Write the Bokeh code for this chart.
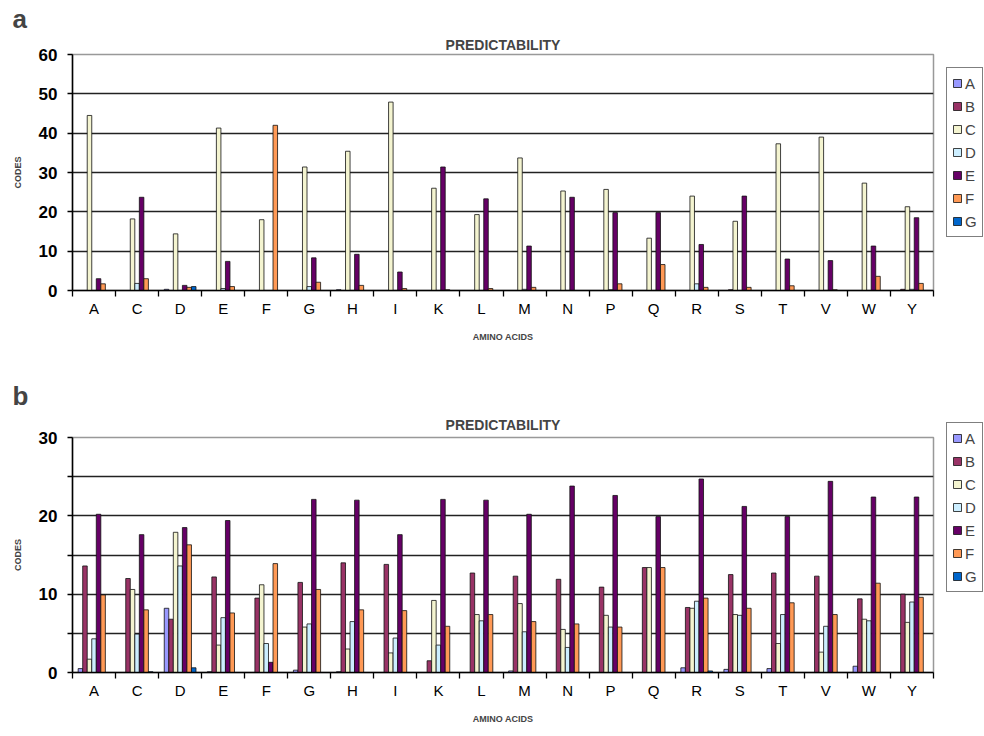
from bokeh.plotting import figure
from bokeh.models import FixedTicker, Range1d, Legend, LegendItem, Title, ColumnDataSource
from bokeh.layouts import column
from bokeh.embed import file_html
from bokeh.resources import INLINE

categories = ["A", "C", "D", "E", "F", "G", "H", "I", "K", "L",
              "M", "N", "P", "Q", "R", "S", "T", "V", "W", "Y"]
series_names = ["A", "B", "C", "D", "E", "F", "G"]

# Panel a
a_A = [0, 0, 0.3, 0, 0, 0, 0.2, 0, 0, 0, 0, 0, 0, 0, 0, 0, 0, 0, 0, 0]
a_B = [0, 0, 0, 0, 0, 0, 0, 0, 0, 0, 0, 0, 0, 0, 0, 0.2, 0, 0, 0, 0.3]
a_C = [44.5, 18.2, 14.4, 41.3, 18.0, 31.4, 35.4, 47.9, 26.0, 19.3,
       33.7, 25.3, 25.7, 13.3, 24.0, 17.6, 37.3, 39.0, 27.3, 21.3]
a_D = [0, 1.8, 0, 0.5, 0, 1.0, 0, 0, 0, 0, 0.3, 0, 0.2, 0, 1.7, 0, 0, 0, 0, 0.3]
a_E = [3.0, 23.7, 1.3, 7.4, 0, 8.3, 9.2, 4.7, 31.4, 23.3,
       11.3, 23.7, 19.8, 19.8, 11.7, 24.0, 8.0, 7.6, 11.3, 18.5]
a_F = [1.7, 3.0, 0.8, 1.0, 42.0, 2.1, 1.3, 0.5, 0.2, 0.5,
       0.8, 0, 1.7, 6.6, 0.8, 0.8, 1.2, 0.2, 3.6, 1.8]
a_G = [0, 0, 1.0, 0, 0, 0, 0, 0, 0, 0, 0, 0, 0, 0, 0, 0, 0, 0, 0, 0]

# Panel b
b_A = [0.5, 0, 8.2, 0.1, 0, 0.3, 0.1, 0, 0, 0, 0.2, 0, 0, 0, 0.6, 0.4, 0.5, 0, 0.8, 0]
b_B = [13.6, 12.0, 6.8, 12.2, 9.5, 11.5, 14.0, 13.8, 1.5, 12.7,
       12.3, 11.9, 10.9, 13.4, 8.3, 12.5, 12.7, 12.3, 9.4, 10.0]
b_C = [1.7, 10.6, 17.9, 3.5, 11.2, 5.8, 3.0, 2.5, 9.2, 7.4,
       8.8, 5.5, 7.3, 13.4, 8.2, 7.4, 3.7, 2.6, 6.8, 6.4]
b_D = [4.3, 4.9, 13.6, 7.0, 3.7, 6.2, 6.5, 4.4, 3.5, 6.6,
       5.2, 3.2, 5.8, 0, 9.1, 7.3, 7.4, 5.9, 6.6, 9.0]
b_E = [20.2, 17.6, 18.5, 19.4, 1.3, 22.1, 22.0, 17.6, 22.1, 22.0,
       20.2, 23.8, 22.6, 19.9, 24.7, 21.2, 19.9, 24.4, 22.4, 22.4]
b_F = [9.9, 8.0, 16.3, 7.6, 13.9, 10.6, 8.0, 7.9, 5.9, 7.4,
       6.5, 6.2, 5.8, 13.4, 9.5, 8.2, 8.9, 7.4, 11.4, 9.6]
b_G = [0, 0.1, 0.6, 0, 0, 0, 0, 0, 0, 0, 0, 0, 0, 0, 0.2, 0, 0, 0, 0, 0]

colors = ["#9999FF", "#993366", "#F4F4D0", "#CCEEFF", "#660066", "#FF9955", "#0066CC"]
FONT = "Liberation Sans"


def make_panel(values, ymax, major, minor, grid, letter, top, bottom, fh,
               legend_loc, title_standoff):
    p = figure(frame_width=861, frame_height=fh,
               x_range=Range1d(0, 20), y_range=Range1d(0, ymax),
               output_backend="svg", toolbar_location=None,
               min_border_left=72, min_border_right=51,
               min_border_top=top, min_border_bottom=bottom)

    t1 = Title(text="PREDICTABILITY", align="center", text_font=FONT,
               text_font_size="14px", text_font_style="bold",
               standoff=title_standoff)
    p.add_layout(t1, "above")
    t2 = Title(text=letter, align="left", offset=-60, text_font=FONT,
               text_font_size="26px", text_font_style="bold", standoff=0)
    p.add_layout(t2, "above")

    bw = 1.0 / 9.5
    renderers = []
    for i, (name, vals) in enumerate(zip(series_names, values)):
        xs = [k + 0.5 + (i - 3) * bw for k in range(len(categories))]
        src = ColumnDataSource(dict(x=xs, top=vals, cat=categories))
        r = p.vbar(x="x", top="top", bottom=0, width=bw, source=src,
                   fill_color=colors[i], line_color="#111111", line_width=0.8)
        renderers.append((name, r))

    p.xgrid.visible = False
    p.ygrid.ticker = FixedTicker(ticks=grid)
    p.ygrid.grid_line_color = "#222222"
    p.ygrid.grid_line_width = 1.4
    p.outline_line_color = "#999999"
    p.outline_line_width = 1.5
    p.background_fill_color = "white"
    p.border_fill_color = "white"

    xa = p.xaxis[0]
    xa.ticker = FixedTicker(ticks=[k + 0.5 for k in range(len(categories))],
                            minor_ticks=list(range(len(categories) + 1)))
    xa.major_label_overrides = {k + 0.5: c for k, c in enumerate(categories)}
    xa.major_tick_out = 0
    xa.major_tick_in = 0
    xa.minor_tick_out = 6
    xa.minor_tick_in = 0
    xa.minor_tick_line_color = "black"
    xa.minor_tick_line_width = 1.3
    xa.axis_line_color = "black"
    xa.axis_line_width = 1.5
    xa.major_label_text_font = FONT
    xa.major_label_text_font_size = "15px"
    xa.major_label_text_color = "black"
    xa.major_label_standoff = 3
    xa.axis_label = "AMINO ACIDS"
    xa.axis_label_text_font = FONT
    xa.axis_label_text_font_size = "9px"
    xa.axis_label_text_font_style = "bold"
    xa.axis_label_standoff = 12

    ya = p.yaxis[0]
    ya.ticker = FixedTicker(ticks=major, minor_ticks=minor)
    ya.major_tick_out = 5
    ya.major_tick_in = 0
    ya.minor_tick_out = 5
    ya.minor_tick_in = 0
    ya.major_tick_line_color = "black"
    ya.minor_tick_line_color = "black"
    ya.major_tick_line_width = 1.3
    ya.minor_tick_line_width = 1.3
    ya.axis_line_color = "black"
    ya.axis_line_width = 1.5
    ya.major_label_text_font = FONT
    ya.major_label_text_font_size = "17px"
    ya.major_label_text_font_style = "bold"
    ya.major_label_text_color = "black"
    ya.major_label_standoff = 10
    ya.axis_label = "CODES"
    ya.axis_label_text_font = FONT
    ya.axis_label_text_font_size = "9px"
    ya.axis_label_text_font_style = "bold"
    ya.axis_label_standoff = 13

    legend = Legend(items=[LegendItem(label=n, renderers=[r]) for n, r in renderers],
                    location=legend_loc, orientation="vertical")
    legend.label_text_font = FONT
    legend.label_text_font_size = "15px"
    legend.glyph_width = 10
    legend.glyph_height = 10
    legend.label_standoff = 3
    legend.label_width = 12
    legend.label_height = 20
    legend.spacing = 3
    legend.padding = 5
    legend.margin = 13
    legend.border_line_color = "black"
    legend.border_line_width = 1
    legend.background_fill_alpha = 1
    p.add_layout(legend, "right")
    return p


pa = make_panel([a_A, a_B, a_C, a_D, a_E, a_F, a_G], 60,
                [0, 10, 20, 30, 40, 50, 60], [], [10, 20, 30, 40, 50],
                "a", 54, 78, 236, "top_left", 3)
pb = make_panel([b_A, b_B, b_C, b_D, b_E, b_F, b_G], 30,
                [0, 10, 20, 30], [5, 15, 25], [5, 10, 15, 20, 25],
                "b", 69, 64, 235, (13, 80), 9)

layout = column(pa, pb)
open("out.html", "w").write(file_html(layout, INLINE))
